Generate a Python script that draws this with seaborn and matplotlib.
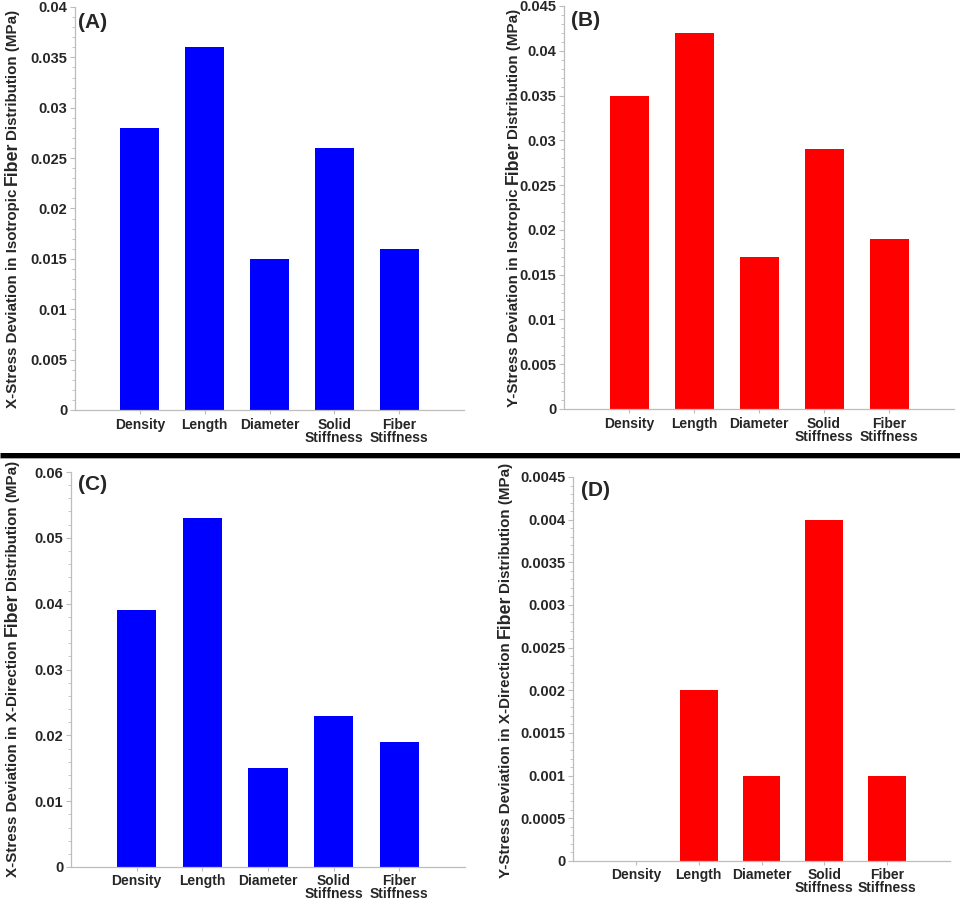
import numpy as np
import pandas as pd
import matplotlib
matplotlib.use("Agg")
import matplotlib.pyplot as plt
import seaborn as sns
from matplotlib.ticker import MultipleLocator, FuncFormatter
from matplotlib.lines import Line2D

# ---------------- data ----------------
categories = ["Density", "Length", "Diameter", "Solid\nStiffness", "Fiber\nStiffness"]
x_stress_isotropic = [0.028, 0.036, 0.015, 0.026, 0.016]
y_stress_isotropic = [0.035, 0.042, 0.017, 0.029, 0.019]
x_stress_xdirection = [0.039, 0.053, 0.015, 0.023, 0.019]
y_stress_xdirection = [0.0, 0.002, 0.001, 0.004, 0.001]

panel_letters = ["(A)", "(B)", "(C)", "(D)"]
ylabel_parts = [
    ("X-Stress Deviation in Isotropic", "Fiber", "Distribution (MPa)"),
    ("Y-Stress Deviation in Isotropic", "Fiber", "Distribution (MPa)"),
    ("X-Stress Deviation in X-Direction", "Fiber", "Distribution (MPa)"),
    ("Y-Stress Deviation in X-Direction", "Fiber", "Distribution (MPa)"),
]
y_max = [0.04, 0.045, 0.06, 0.0045]
y_major = [0.005, 0.005, 0.01, 0.0005]
y_minor = [0.001, 0.001, 0.002, 0.0001]

# ---------------- style ----------------
sns.set_style("white")
plt.rcParams['font.family'] = ['Liberation Sans', 'DejaVu Sans']

W, H = 960, 900
fig = plt.figure(figsize=(W / 100, H / 100), dpi=100)

# axes rectangles in image pixels: left, right, top, bottom
rects_px = [
    (75, 464, 7, 410),
    (564, 954, 6, 409),
    (71, 465, 472, 867),
    (573, 950, 477, 861),
]
colors = ["#0000FF", "#FF0000", "#0000FF", "#FF0000"]
series = [x_stress_isotropic, y_stress_isotropic, x_stress_xdirection, y_stress_xdirection]
letter_pos = [(78, 22), (571, 21), (78, 485), (581, 491)]
label_baseline_x = [17, 518, 17, 510]
label_span = [(10, 408), (8, 408), (470, 868), (478, 862)]
xtick_pad = [3, 3, 2.2, 2.2]

spine_gray = "#BDBDBD"
axes = []
for i in range(4):
    l, r, t, b = rects_px[i]
    ax = fig.add_axes([l / W, 1 - b / H, (r - l) / W, (b - t) / H])
    df = pd.DataFrame({"cat": categories, "val": series[i]})
    sns.barplot(data=df, x="cat", y="val", color=colors[i], saturation=1,
                width=0.6, edgecolor="none", linewidth=0, ax=ax)
    ax.set_xlim(-1, 5)
    ax.set_ylim(0, y_max[i])
    ax.yaxis.set_major_locator(MultipleLocator(y_major[i]))
    ax.yaxis.set_minor_locator(MultipleLocator(y_minor[i]))
    ax.yaxis.set_major_formatter(FuncFormatter(lambda v, p: "0" if abs(v) < 1e-12 else ("%g" % round(v, 6))))
    ax.set_xticks(range(len(categories)))
    ax.set_xticklabels(categories, fontsize=10, fontweight="bold", linespacing=0.88)
    for lab in ax.get_yticklabels():
        lab.set_fontsize(10.5)
        lab.set_fontweight("bold")
    ax.tick_params(axis="y", which="major", direction="out", length=3.5, width=0.8,
                   color=spine_gray, pad=2, left=True)
    ax.tick_params(axis="y", which="minor", direction="out", length=2, width=0.6,
                   color=spine_gray, left=True)
    ax.tick_params(axis="x", which="major", direction="out", length=3, width=0.8,
                   color=spine_gray, pad=xtick_pad[i], bottom=True)
    ax.set_xlabel("")
    ax.set_ylabel("")
    for side in ["top", "right"]:
        ax.spines[side].set_visible(False)
    for side in ["left", "bottom"]:
        ax.spines[side].set_color(spine_gray)
        ax.spines[side].set_linewidth(0.9)
    ax.grid(False)
    axes.append(ax)

    # panel letter
    lx, ly = letter_pos[i]
    fig.text(lx / W, 1 - ly / H, panel_letters[i], fontsize=15, fontweight="bold",
             ha="left", va="center")

# ---------------- multi-size y labels ----------------
fig.canvas.draw()
renderer = fig.canvas.get_renderer()
small, big = 10.9, 12.8

for i in range(4):
    parts = ylabel_parts[i]
    sizes = [small, big, small]
    lengths = []
    for s, sz in zip(parts, sizes):
        tt = fig.text(0, 0, s, fontsize=sz, fontweight="bold")
        bb = tt.get_window_extent(renderer)
        lengths.append(bb.width)
        tt.remove()
    gaps = [0.278 * small * 100 / 72, 1.5]
    total = sum(lengths) + sum(gaps)
    y0_img, y1_img = label_span[i]
    yc_img = (y0_img + y1_img) / 2
    yb = (H - yc_img) - total / 2
    xb = label_baseline_x[i]
    for k, (s, sz) in enumerate(zip(parts, sizes)):
        fig.text(xb / W, yb / H, s, fontsize=sz, fontweight="bold", rotation=90,
                 rotation_mode="anchor", ha="left", va="baseline")
        yb += lengths[k]
        if k < 2:
            yb += gaps[k]

# ---------------- separator line ----------------
fig.add_artist(Line2D([0, 1], [1 - 455 / H, 1 - 455 / H], transform=fig.transFigure,
                      color="black", linewidth=3.6, solid_capstyle="butt"))
fig.add_artist(Line2D([0, 1], [1 - 458.2 / H, 1 - 458.2 / H], transform=fig.transFigure,
                      color="#9A9A9A", linewidth=0.6))

fig.savefig("out.png", dpi=100, facecolor="white")
